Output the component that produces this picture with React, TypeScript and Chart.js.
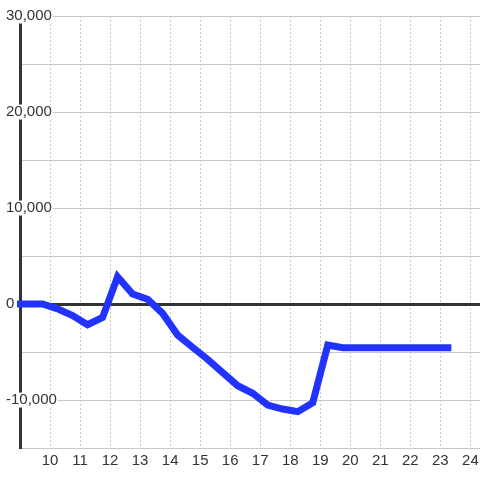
import React, { useEffect, useRef } from "react";
import { Chart, registerables } from "chart.js";

Chart.register(...registerables);

const hours: number[] = [8.75, 9.25, 9.75, 10.25, 10.75, 11.25, 11.75, 12.25, 12.75, 13.25, 13.75, 14.25, 14.75, 15.25, 15.75, 16.25, 16.75, 17.25, 17.75, 18.25, 18.75, 19.25, 19.75, 20.25, 20.75, 21.25, 21.75, 22.25, 22.75, 23.25];
const values: number[] = [0, 0, 0, -500, -1200, -2150, -1400, 2850, 1050, 500, -975, -3230, -4510, -5760, -7150, -8510, -9300, -10520, -10940, -11210, -10280, -4270, -4550, -4550, -4550, -4550, -4550, -4550, -4550, -4550];
const xMin = 9;
const xMax = 24.32;
const yMin = -15000;
const yMax = 30000;
const yLabelStep = 10000;
const hiddenXLabels: number[] = [9];

const FONT = "'Liberation Sans', Arial, sans-serif";

export default function App() {
  const ref = useRef<HTMLCanvasElement | null>(null);
  useEffect(() => {
    if (!ref.current) return;
    const chart = new Chart(ref.current, {
      type: "line",
      data: {
        datasets: [
          {
            data: hours.map((h, i) => ({ x: h, y: values[i] })),
            borderColor: "#2233ff",
            borderWidth: 7,
            borderCapStyle: "square",
            pointRadius: 0,
            tension: 0,
            fill: false,
            clip: 3,
          },
        ],
      },
      options: {
        animation: false,
        responsive: true,
        maintainAspectRatio: false,
        layout: { padding: { left: 20, top: 16, right: 0, bottom: 6 } },
        plugins: { legend: { display: false }, tooltip: { enabled: false } },
        scales: {
          x: {
            type: "linear",
            min: xMin,
            max: xMax,
            border: { display: false, dash: [2, 2] },
            grid: { color: "#c8c8c8", lineWidth: 1, drawTicks: false },
            ticks: {
              stepSize: 1,
              includeBounds: false,
              padding: 0,
              color: "#333",
              font: { family: FONT, size: 15, lineHeight: 1.73 },
              maxRotation: 0,
              autoSkip: false,
              callback: (v: any) => (hiddenXLabels.includes(Number(v)) ? "" : String(v)),
            },
          },
          y: {
            type: "linear",
            min: yMin,
            max: yMax,
            afterFit: (scale: any) => {
              scale.width = 0;
            },
            border: { display: true, color: "#333", width: 3 },
            grid: {
              drawTicks: false,
              color: (ctx: any) => (ctx.tick && ctx.tick.value === 0 ? "#333" : "#c8c8c8"),
              lineWidth: (ctx: any) => (ctx.tick && ctx.tick.value === 0 ? 3 : 1),
            },
            ticks: {
              stepSize: 5000,
              mirror: true,
              padding: -14,
              z: 1,
              showLabelBackdrop: true,
              backdropColor: "#ffffff",
              backdropPadding: { left: 2, right: 1, top: 0, bottom: 0 },
              color: "#333",
              font: { family: FONT, size: 15, lineHeight: 1 },
              callback: (v: any) => (Number(v) % yLabelStep === 0 ? Number(v).toLocaleString("en-US") : ""),
            },
          },
        },
      },
    });
    return () => chart.destroy();
  }, []);
  return (
    <div style={{ position: "absolute", left: 0, top: 0, width: 480, height: 480, background: "#fff" }}>
      <canvas ref={ref} />
    </div>
  );
}
